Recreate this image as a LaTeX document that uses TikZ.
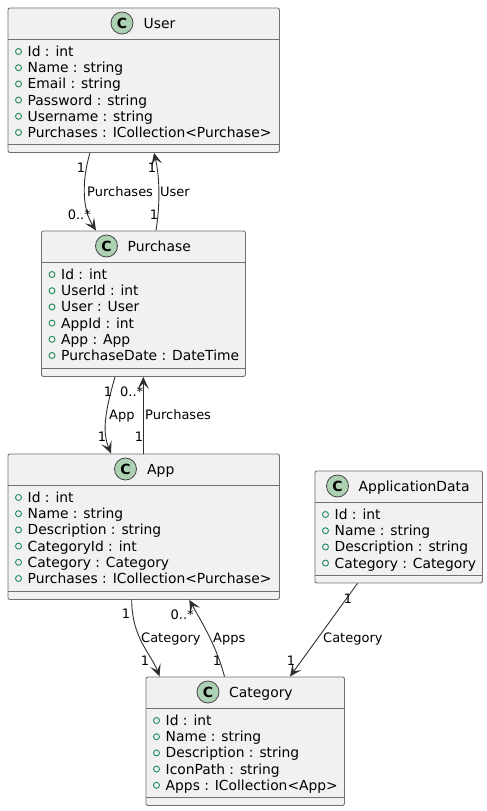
\documentclass[tikz,border=0pt]{standalone}
\usepackage{fontspec}
\setmainfont{DejaVu Sans}
\usetikzlibrary{arrows.meta}
\definecolor{boxfill}{HTML}{F1F1F1}
\definecolor{boxline}{HTML}{707070}
\definecolor{spotfill}{HTML}{ADD1B2}
\definecolor{inkc}{HTML}{181818}
\definecolor{visc}{HTML}{1F8A5C}
\tikzset{
  x=1pt,y=-1pt,
  classbox/.style={draw=boxline,fill=boxfill,line width=0.9pt,rounded corners=2pt,minimum width=#1,inner sep=0pt,anchor=north west},
  divider/.style={draw=boxline,line width=0.9pt},
  spot/.style={circle,draw=inkc!80,fill=spotfill,line width=0.8pt,minimum size=22pt,inner sep=0pt,font=\fontsize{14}{14}\selectfont\bfseries},
  title/.style={anchor=base west,inner sep=0pt,text=black,font=\fontsize{13.9}{14}\selectfont},
  attr/.style={anchor=base west,inner sep=0pt,text=black,font=\fontsize{13.85}{14}\selectfont},
  vis/.style={circle,draw=visc,line width=0.9pt,minimum size=6pt,inner sep=0pt},
  lab/.style={inner sep=0pt,text=black,font=\fontsize{13}{13}\selectfont},
  lableft/.style={lab,anchor=base west},
  labmid/.style={lab,anchor=base},
  conn/.style={draw=inkc!90,line width=0.9pt,-{Stealth[length=12pt,width=11pt,inset=5.5pt]}},
}
% \umlclass{name}{x}{y}{w}{h}{spotx}{titlex}{title}{attrs}
\newcommand{\umlclass}[9]{%
  \node[classbox=#4,minimum height=#5] (#1) at (#2,#3) {};
  \draw[divider] ([yshift=-31.5pt]#1.north west) -- ([yshift=-31.5pt]#1.north east);
  \draw[divider] ([yshift=8pt]#1.south west) -- ([yshift=8pt]#1.south east);
  \node[spot] (#1-spot) at (#6,#3+15.5) {C};
  \node[title] (#1-title) at (#7,#3+20.5) {#8};
  \foreach \t [count=\i] in {#9} {
    \pgfmathsetmacro{\rowy}{#3+44+(\i-1)*16.2}
    \node[vis] (#1-vis-\i) at (#2+11,\rowy) {};
    \node[attr] (#1-attr-\i) at (#2+20,\rowy+5) {\t};
  }
}
\begin{document}
\begin{tikzpicture}
\useasboundingbox (0,0) rectangle (487,811);
\umlclass{user}{7.5}{7.5}{271.5pt}{144.5pt}{122}{143.5}{User}{Id : int,Name : string,Email : string,Password : string,Username : string,Purchases : ICollection<Purchase>}
\umlclass{purchase}{41}{230.5}{204pt}{145.5pt}{106.5}{127.5}{Purchase}{Id : int,UserId : int,User : User,AppId : int,App : App,PurchaseDate : DateTime}
\umlclass{app}{7.5}{453.5}{271.5pt}{145.5pt}{125.5}{147}{App}{Id : int,Name : string,Description : string,CategoryId : int,Category : Category,Purchases : ICollection<Purchase>}
\umlclass{appdata}{314.5}{470.5}{167.5pt}{112pt}{337.5}{358.5}{ApplicationData}{Id : int,Name : string,Description : string,Category : Category}
\umlclass{category}{145.5}{676.5}{198.5pt}{128.5pt}{208}{229}{Category}{Id : int,Name : string,Description : string,IconPath : string,Apps : ICollection<App>}

% connectors
\draw[conn] ([xshift=82.5pt]user.south west) .. controls +(-9,30) and +(-13,-20) .. ([xshift=55pt]purchase.north west);
\draw[conn] ([xshift=115pt]purchase.north west) .. controls +(4,-25) and +(6,25) .. ([xshift=146.5pt]user.south west);
\draw[conn] ([xshift=74pt]purchase.south west) .. controls +(-10,35) and +(-9,-22) .. ([xshift=103.5pt]app.north west);
\draw[conn] ([xshift=135.8pt]app.north west) -- ([xshift=102.3pt]purchase.south west);
\draw[conn] ([xshift=124.2pt]app.south west) .. controls +(0,38) and +(-8,-22) .. ([xshift=14pt]category.north west);
\draw[conn] ([xshift=79pt]category.north west) .. controls +(-8,-30) and +(14,25) .. ([xshift=181.8pt]app.south west);
\draw[conn] ([xshift=43pt]appdata.south west) -- ([xshift=144.5pt]category.north west);

% labels
\node[labmid] (l1) at (81,172.5) {1};
\node[lableft] (l2) at (87,196) {Purchases};
\node[lab,anchor=base east] (l3) at (91,219) {0..*};
\node[labmid] (l4) at (152,172.5) {1};
\node[labmid] (l5) at (154,219) {1};
\node[lableft] (l6) at (160,196) {User};

\node[labmid] (l7) at (108,396.5) {1};
\node[lableft] (l8) at (120,396.5) {0..*};
\node[lableft] (l9) at (109,419) {App};
\node[lableft] (l10) at (145,419) {Purchases};
\node[labmid] (l11) at (102,441.5) {1};
\node[labmid] (l12) at (139,441.5) {1};

\node[labmid] (l13) at (126,618.5) {1};
\node[lableft] (l14) at (170.5,619) {0..*};
\node[lableft] (l15) at (141,642.5) {Category};
\node[lableft] (l16) at (213,642.5) {Apps};
\node[labmid] (l17) at (145,665) {1};
\node[labmid] (l18) at (217,665) {1};
\node[labmid] (l19) at (348,603.5) {1};
\node[lableft] (l20) at (323,642.5) {Category};
\node[labmid] (l21) at (291,665) {1};
\end{tikzpicture}
\end{document}
